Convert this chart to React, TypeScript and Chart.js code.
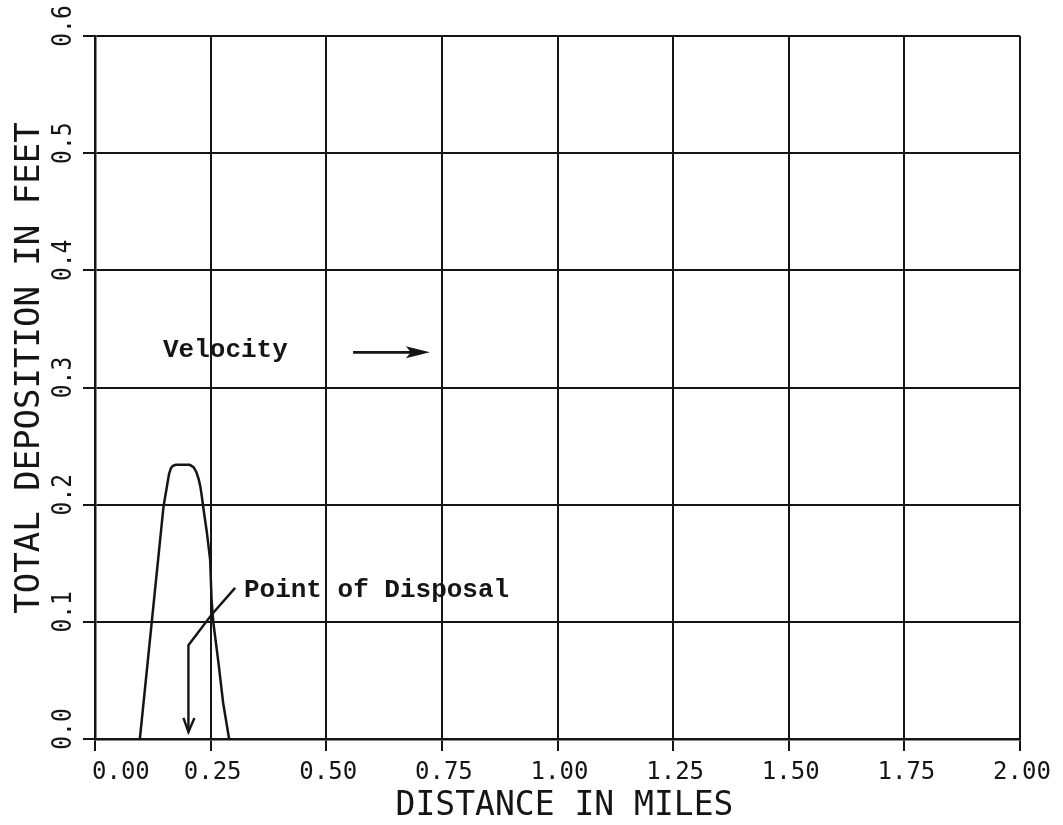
import React, { useEffect, useRef } from "react";
import { Chart, registerables } from "chart.js";
Chart.register(...registerables);

// Deposition curve (distance in miles, total deposition in feet)
const distance = [0.097, 0.148, 0.16, 0.164, 0.168, 0.174, 0.205, 0.213, 0.219, 0.224, 0.228, 0.231, 0.234, 0.242, 0.249, 0.252, 0.256, 0.267, 0.277, 0.29];
const deposition = [0, 0.198, 0.226, 0.231, 0.233, 0.234, 0.234, 0.232, 0.228, 0.222, 0.215, 0.207, 0.198, 0.176, 0.153, 0.119, 0.099, 0.065, 0.031, 0];

// Axis ticks
const xTickValues = [0, 0.25, 0.5, 0.75, 1.0, 1.25, 1.5, 1.75, 2.0];
const xTickLabels = ["0.00", "0.25", "0.50", "0.75", "1.00", "1.25", "1.50", "1.75", "2.00"];
const yTickValues = [0, 0.1, 0.2, 0.3, 0.4, 0.5, 0.6];
const yTickLabels = ["0.0", "0.1", "0.2", "0.3", "0.4", "0.5", "0.6"];
const xTitle = "DISTANCE IN MILES";
const yTitle = "TOTAL DEPOSITION IN FEET";

// Annotations
const noteTexts = ["Velocity", "Point of Disposal"];
const noteX = [0.147, 0.322];
const noteY = [0.326, 0.121];
const velocityArrowX = [0.558, 0.724];
const velocityArrowY = [0.33, 0.33];
const disposalArrowX = [0.303, 0.252, 0.202, 0.202];
const disposalArrowY = [0.129, 0.106, 0.08, 0.006];

const INK = "#151515";
const PLOT_FONT = "'DejaVu Sans Mono', monospace";
const NOTE_FONT = "'Liberation Mono', 'DejaVu Sans Mono', monospace";

const decorPlugin = {
  id: "decor",
  afterDraw(chart: any) {
    const ctx = chart.ctx as CanvasRenderingContext2D;
    const xs = chart.scales.x;
    const ys = chart.scales.y;
    const area = chart.chartArea;
    ctx.save();
    ctx.fillStyle = INK;
    ctx.strokeStyle = INK;

    // x tick labels
    ctx.font = `24px ${PLOT_FONT}`;
    ctx.textBaseline = "middle";
    xTickValues.forEach((v, i) => {
      const px = xs.getPixelForValue(v);
      ctx.textAlign = i === 0 ? "left" : "center";
      ctx.fillText(xTickLabels[i], i === 0 ? px - 3 : px + 2, area.bottom + 34);
    });

    // y tick labels (rotated)
    ctx.font = `27px ${PLOT_FONT}`;
    yTickValues.forEach((v, i) => {
      const py = ys.getPixelForValue(v);
      ctx.save();
      ctx.translate(64, py - 10);
      ctx.rotate(-Math.PI / 2);
      ctx.scale(0.85, 1);
      ctx.textAlign = "center";
      ctx.textBaseline = "middle";
      ctx.fillText(yTickLabels[i], 0, 0);
      ctx.restore();
    });

    // axis titles
    ctx.font = `33px ${PLOT_FONT}`;
    ctx.textAlign = "center";
    ctx.textBaseline = "middle";
    ctx.fillText(xTitle, (area.left + area.right) / 2 + 7, area.bottom + 67);
    ctx.save();
    ctx.translate(30, 368);
    ctx.rotate(-Math.PI / 2);
    ctx.font = `34px ${PLOT_FONT}`;
    ctx.fillText(yTitle, 0, 0);
    ctx.restore();

    // notes
    ctx.font = `bold 26px ${NOTE_FONT}`;
    ctx.textAlign = "left";
    ctx.textBaseline = "alphabetic";
    noteTexts.forEach((t, i) => {
      ctx.fillText(t, xs.getPixelForValue(noteX[i]), ys.getPixelForValue(noteY[i]));
    });

    // velocity arrow
    ctx.lineWidth = 2.6;
    const vx0 = xs.getPixelForValue(velocityArrowX[0]);
    const vx1 = xs.getPixelForValue(velocityArrowX[1]);
    const vy = ys.getPixelForValue(velocityArrowY[0]);
    ctx.beginPath();
    ctx.moveTo(vx0, vy);
    ctx.lineTo(vx1 - 10, vy);
    ctx.stroke();
    ctx.beginPath();
    ctx.moveTo(vx1, vy);
    ctx.lineTo(vx1 - 24, vy - 6);
    ctx.lineTo(vx1 - 19, vy);
    ctx.lineTo(vx1 - 24, vy + 6);
    ctx.closePath();
    ctx.fill();

    // disposal arrow
    ctx.lineWidth = 2.4;
    ctx.beginPath();
    disposalArrowX.forEach((v, i) => {
      const px = xs.getPixelForValue(v);
      const py = ys.getPixelForValue(disposalArrowY[i]);
      if (i === 0) ctx.moveTo(px, py);
      else ctx.lineTo(px, py);
    });
    ctx.stroke();
    const tx = xs.getPixelForValue(disposalArrowX[disposalArrowX.length - 1]);
    const ty = ys.getPixelForValue(disposalArrowY[disposalArrowY.length - 1]);
    ctx.beginPath();
    ctx.moveTo(tx - 5, ty - 14);
    ctx.lineTo(tx, ty);
    ctx.lineTo(tx + 6, ty - 14);
    ctx.stroke();

    ctx.restore();
  },
};

export default function App() {
  const ref = useRef<HTMLCanvasElement | null>(null);
  useEffect(() => {
    document.body.style.margin = "0";
    const canvas = ref.current;
    if (!canvas) return;
    const points = distance.map((d, i) => ({ x: d, y: deposition[i] }));
    const chart = new Chart(canvas, {
      type: "line",
      data: {
        datasets: [
          {
            data: points,
            borderColor: INK,
            borderWidth: 2.5,
            pointRadius: 0,
            fill: false,
            tension: 0,
            borderJoinStyle: "round",
          },
        ],
      },
      options: {
        responsive: false,
        animation: false,
        devicePixelRatio: 1,
        layout: { padding: { top: 36, right: 43, left: 0, bottom: 0 } },
        plugins: { legend: { display: false }, tooltip: { enabled: false } },
        scales: {
          x: {
            type: "linear",
            min: 0,
            max: 2,
            afterBuildTicks: (scale: any) => {
              scale.ticks = xTickValues.map((v) => ({ value: v }));
            },
            ticks: { display: false },
            grid: { color: INK, lineWidth: 2, tickLength: 12, drawTicks: true },
            border: { display: true, color: INK, width: 2.5 },
            afterFit: (scale: any) => {
              scale.height = 86;
            },
          },
          y: {
            type: "linear",
            min: 0,
            max: 0.6,
            afterBuildTicks: (scale: any) => {
              scale.ticks = yTickValues.map((v) => ({ value: v }));
            },
            ticks: { display: false },
            grid: { color: INK, lineWidth: 2, tickLength: 12, drawTicks: true },
            border: { display: true, color: INK, width: 2.5 },
            afterFit: (scale: any) => {
              scale.width = 95;
            },
          },
        },
      },
      plugins: [decorPlugin],
    } as any);
    return () => chart.destroy();
  }, []);
  return (
    <div style={{ position: "absolute", left: 0, top: 0, width: 1063, height: 825, background: "#fff" }}>
      <canvas ref={ref} width={1063} height={825} style={{ display: "block" }} />
    </div>
  );
}
